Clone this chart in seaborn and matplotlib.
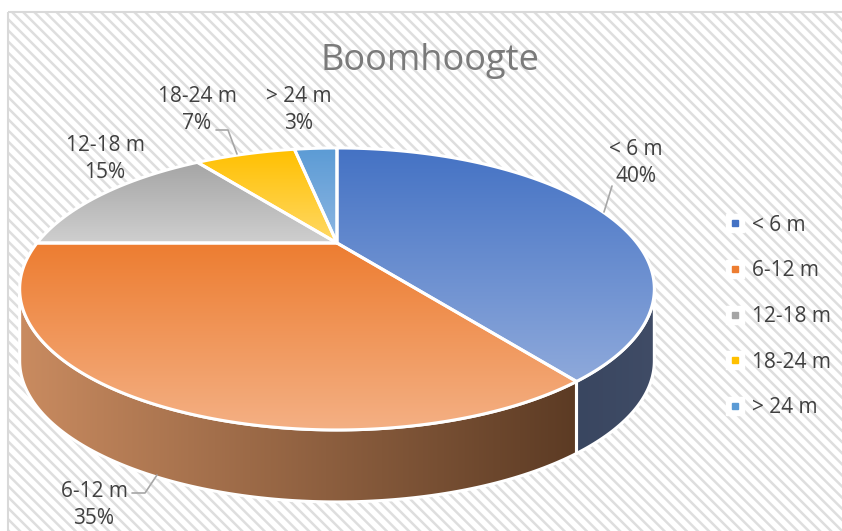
import numpy as np
import matplotlib
matplotlib.use("Agg")
import matplotlib.pyplot as plt
import seaborn as sns
from matplotlib.patches import Polygon, Rectangle
from matplotlib.colors import LinearSegmentedColormap
from matplotlib.lines import Line2D

# Data
categories = ["< 6 m", "6-12 m", "12-18 m", "18-24 m", "> 24 m"]
shares = [40, 35, 15, 7, 3]
pct_labels = ["40%", "35%", "15%", "7%", "3%"]

# Colours (top face gradient start / end, wall gradient start / end)
base_colors = ["#4472C4", "#ED7D31", "#A5A5A5", "#FFC000", "#5B9BD5"]
light_colors = ["#8EA9DB", "#F4B084", "#CFCFCF", "#FFD966", "#8DB6E2"]
wall_colors = [("#394660", "#404C66"), ("#C98B60", "#5C3B24"),
               ("#8A8A8A", "#5A5A5A"), ("#C09000", "#806000"), ("#45749F", "#2E4E6B")]

sns.set_theme(style="white")
plt.rcParams["font.family"] = ["Open Sans", "DejaVu Sans"]
plt.rcParams["hatch.linewidth"] = 1.8

# perspective "3D pie" geometry in pixel coordinates
CX, CY = 337, 243      # projected pie centre
RX, RY = 300, 126      # radii
K = 0.326              # perspective strength
DEPTH = 72             # wall height in pixels


def proj(theta, drop=0.0):
    t = np.radians(theta)
    x, y = np.cos(t), np.sin(t)
    d = 1 + K * y
    return np.column_stack([CX + RX * x / d, CY - RY * y / d + drop])


def gradient_patch(ax, verts, c0, c1, horizontal=False, z=2):
    poly = Polygon(verts, closed=True, facecolor="none", edgecolor="white",
                   lw=2.2, joinstyle="round", zorder=z + 0.5)
    ax.add_patch(poly)
    x0, y0 = verts.min(axis=0)
    x1, y1 = verts.max(axis=0)
    cmap = LinearSegmentedColormap.from_list("g", [c0, c1])
    g = np.linspace(0, 1, 256)
    arr = g[None, :] if horizontal else g[:, None]
    im = ax.imshow(arr, cmap=cmap, extent=(x0, x1, y1, y0), origin="upper",
                   aspect="auto", zorder=z, interpolation="bilinear")
    im.set_clip_path(poly)


fig = plt.figure(figsize=(8.42, 5.31), dpi=100)
fig.patch.set_facecolor("white")
ax = fig.add_axes([0, 0, 1, 1])
ax.set_axis_off()

# striped chart area background
ax.add_patch(Rectangle((8, 12), 860, 540, facecolor="white", edgecolor="#dedede",
                       hatch="\\\\\\", lw=0, zorder=0))
ax.add_patch(Rectangle((8, 12), 860, 540, fill=False, edgecolor="#d9d9d9",
                       lw=1.5, zorder=0.5))

# slice angles: start at 12 o'clock, clockwise
angles = []
start = 90.0
for v in shares:
    end = start - 360.0 * v / sum(shares)
    angles.append((start, end))
    start = end

# visible part of the side wall (between the two silhouette points)
sil = np.degrees(np.arcsin(K))
vis_lo, vis_hi = -180 + sil, -sil

for i, (a0, a1) in enumerate(angles):
    for shift in (-360, 0, 360):
        lo = max(a1 + shift, vis_lo)
        hi = min(a0 + shift, vis_hi)
        if hi > lo:
            t = np.linspace(lo, hi, 120)
            verts = np.vstack([proj(t), proj(t[::-1], DEPTH)])
            gradient_patch(ax, verts, wall_colors[i][0], wall_colors[i][1],
                           horizontal=True, z=2)

for i, (a0, a1) in enumerate(angles):
    t = np.linspace(a0, a1, 200)
    verts = np.vstack([[[CX, CY]], proj(t)])
    gradient_patch(ax, verts, base_colors[i], light_colors[i], z=4)

# data labels
label_pos = [(636, 163), (94, 505), (105, 159), (197, 110), (299, 110)]
for (x, y), cat, pct in zip(label_pos, categories, pct_labels):
    ax.text(x, y, f"{cat}\n{pct}", ha="center", va="center", fontsize=15,
            color="#404040", linespacing=1.35, zorder=6)

leaders = [[(612, 186), (604, 212)],
           [(132, 493), (145, 493), (157, 475)],
           [(216, 130), (228, 130), (237, 154)]]
for pts in leaders:
    pts = np.array(pts)
    ax.plot(pts[:, 0], pts[:, 1], color="#a6a6a6", lw=1.2, zorder=6)

ax.text(430, 61, "Boomhoogte", ha="center", va="center", fontsize=26,
        color="#7a7a7a", zorder=6)

# legend: small coloured squares on white boxes
handles = []
for c in base_colors:
    box = Line2D([], [], marker="s", ls="", ms=13, color="white")
    dot = Line2D([], [], marker="s", ls="", ms=4, color=c)
    handles.append((box, dot))
leg = ax.legend(handles, categories, loc="upper left", bbox_to_anchor=(706, 196),
                bbox_transform=ax.transData, frameon=False, fontsize=15,
                labelcolor="#404040", labelspacing=1.18, handlelength=1.0,
                handletextpad=0.3)
leg.set_zorder(7)

ax.set_xlim(0, 842)
ax.set_ylim(531, 0)
fig.savefig("out.png", dpi=100)
